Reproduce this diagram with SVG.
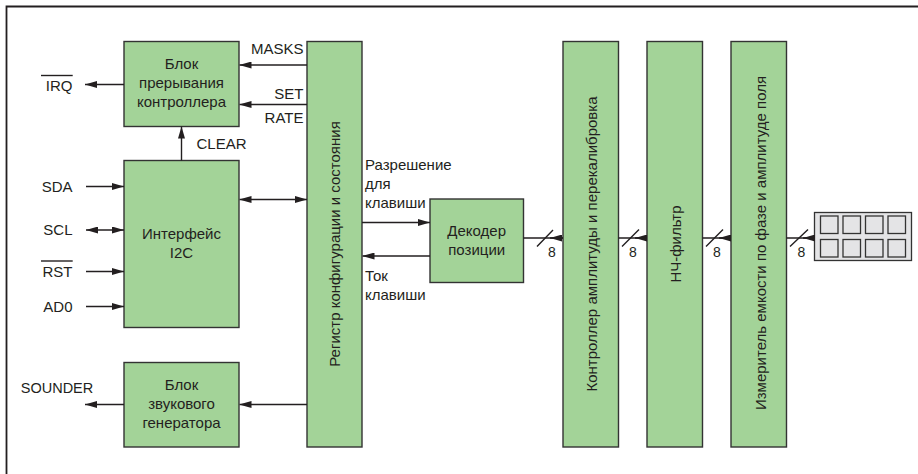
<svg xmlns="http://www.w3.org/2000/svg" width="918" height="474" viewBox="0 0 918 474">
<style>
.blk{fill:#a3d398;stroke:#333;stroke-width:1.4}
.key{fill:#e4e4e6;stroke:#333;stroke-width:1.3}
.t{font-family:"Liberation Sans",Arial,sans-serif;font-size:15px;fill:#231f20}
.c{text-anchor:middle}
.e{text-anchor:end}
.w{stroke:#231f20;stroke-width:1.4;fill:none}
.a{stroke:#231f20;stroke-width:1.4;fill:none;marker-end:url(#ah)}
.d{stroke:#231f20;stroke-width:1.4;fill:none;marker-end:url(#ah);marker-start:url(#ah)}
</style>
<defs>
<marker id="ah" viewBox="0 0 12 7" refX="12" refY="3.5" markerWidth="12" markerHeight="7" markerUnits="userSpaceOnUse" orient="auto-start-reverse">
<path d="M0,0 L12,3.5 L0,7 z" fill="#231f20"/>
</marker>
</defs>
<rect width="918" height="474" fill="#fff"/>
<path d="M6.5,474 L6.5,6.5 L918,6.5" fill="none" stroke="#231f20" stroke-width="1.8"/>

<g id="irq-block">
<rect class="blk" x="124" y="41.5" width="115" height="85"/>
<text class="t c" x="181.5" y="69">Блок</text>
<text class="t c" x="181.5" y="88">прерывания</text>
<text class="t c" x="181.5" y="107">контроллера</text>
</g>
<g id="i2c">
<rect class="blk" x="124" y="160.5" width="115" height="167"/>
<text class="t c" x="181.5" y="239">Интерфейс</text>
<text class="t c" x="181.5" y="258">I2C</text>
</g>
<g id="sounder">
<rect class="blk" x="124" y="362.5" width="115" height="84.5"/>
<text class="t c" x="181.5" y="390">Блок</text>
<text class="t c" x="181.5" y="409">звукового</text>
<text class="t c" x="181.5" y="428">генератора</text>
</g>
<g id="register">
<rect class="blk" x="307" y="41.5" width="55" height="405.5"/>
<text class="t c" transform="translate(340,244) rotate(-90)">Регистр конфигурации и состояния</text>
</g>
<g id="decoder">
<rect class="blk" x="430" y="199" width="93.5" height="83.5"/>
<text class="t c" x="476.7" y="235.5">Декодер</text>
<text class="t c" x="476.7" y="254.5">позиции</text>
</g>
<g id="amp">
<rect class="blk" x="563" y="41.5" width="55.5" height="405.5"/>
<text class="t c" transform="translate(596.5,244) rotate(-90)">Контроллер амплитуды и перекалибровка</text>
</g>
<g id="lpf">
<rect class="blk" x="647" y="41.5" width="55.5" height="405.5"/>
<text class="t c" transform="translate(681,244) rotate(-90)">НЧ-фильтр</text>
</g>
<g id="meter">
<rect class="blk" x="731" y="41.5" width="55.5" height="405.5"/>
<text class="t c" transform="translate(765.5,243) rotate(-90)">Измеритель емкости по фазе и амплитуде поля</text>
</g>
<g id="keypad">
<rect class="key" x="814.5" y="212.5" width="97" height="48"/>
<rect class="key" x="820.5" y="216" width="17.5" height="17.5"/>
<rect class="key" x="843" y="216" width="17.5" height="17.5"/>
<rect class="key" x="865.5" y="216" width="17.5" height="17.5"/>
<rect class="key" x="888" y="216" width="17.5" height="17.5"/>
<rect class="key" x="820.5" y="239.5" width="17.5" height="17.5"/>
<rect class="key" x="843" y="239.5" width="17.5" height="17.5"/>
<rect class="key" x="865.5" y="239.5" width="17.5" height="17.5"/>
<rect class="key" x="888" y="239.5" width="17.5" height="17.5"/>
</g>

<g id="connectors">
<path class="a" d="M307,65 L239.5,65"/>
<path class="a" d="M307,104.5 L239.5,104.5"/>
<path class="a" d="M124,84.5 L85,84.5"/>
<path class="a" d="M181.5,160.5 L181.5,126.5"/>
<path class="a" d="M86,186.5 L124,186.5"/>
<path class="d" d="M86,230 L124,230"/>
<path class="a" d="M86,271.5 L124,271.5"/>
<path class="a" d="M86,306.5 L124,306.5"/>
<path class="d" d="M239.5,199.5 L307,199.5"/>
<path class="a" d="M307,404.5 L239.5,404.5"/>
<path class="a" d="M124,404.5 L85,404.5"/>
<path class="a" d="M362,222.5 L430,222.5"/>
<path class="a" d="M430,256 L362.5,256"/>

<path class="w" d="M523.5,238 L563,238 M618.5,238 L647,238 M702.5,238 L731,238 M786.5,238 L814.5,238"/>
<path class="a" d="M563,238 L550,238"/>
<path class="a" d="M647,238 L635,238"/>
<path class="a" d="M731,238 L719,238"/>
<path class="a" d="M814.5,238 L803,238"/>
<path class="w" d="M537,246.5 L553,230 M622,246.5 L639,229.5 M706,246.5 L723,229.5 M790,246.5 L808,229.5"/>
</g>

<g id="labels">
<text class="t e" x="72.5" y="90.5">IRQ</text>
<path class="w" d="M41,75.5 L72.7,75.5"/>
<text class="t e" x="72.5" y="191.5">SDA</text>
<text class="t e" x="72.5" y="235">SCL</text>
<text class="t e" x="72.5" y="276.5">RST</text>
<path class="w" d="M41,261 L72.7,261"/>
<text class="t e" x="72.5" y="311.5">AD0</text>
<text class="t c" x="57" y="393" style="font-size:14.5px">SOUNDER</text>
<text class="t e" x="303.5" y="54">MASKS</text>
<text class="t e" x="303.5" y="99">SET</text>
<text class="t e" x="303.5" y="122.5">RATE</text>
<text class="t" x="196.5" y="149">CLEAR</text>
<text class="t" x="365" y="170">Разрешение</text>
<text class="t" x="365" y="189">для</text>
<text class="t" x="365" y="208">клавиши</text>
<text class="t" x="365" y="281">Ток</text>
<text class="t" x="365" y="300">клавиши</text>
<text class="t c" x="552" y="256.5" style="font-size:14px">8</text>
<text class="t c" x="633" y="256.5" style="font-size:14px">8</text>
<text class="t c" x="717" y="256.5" style="font-size:14px">8</text>
<text class="t c" x="801.5" y="256.5" style="font-size:14px">8</text>
</g>
</svg>
